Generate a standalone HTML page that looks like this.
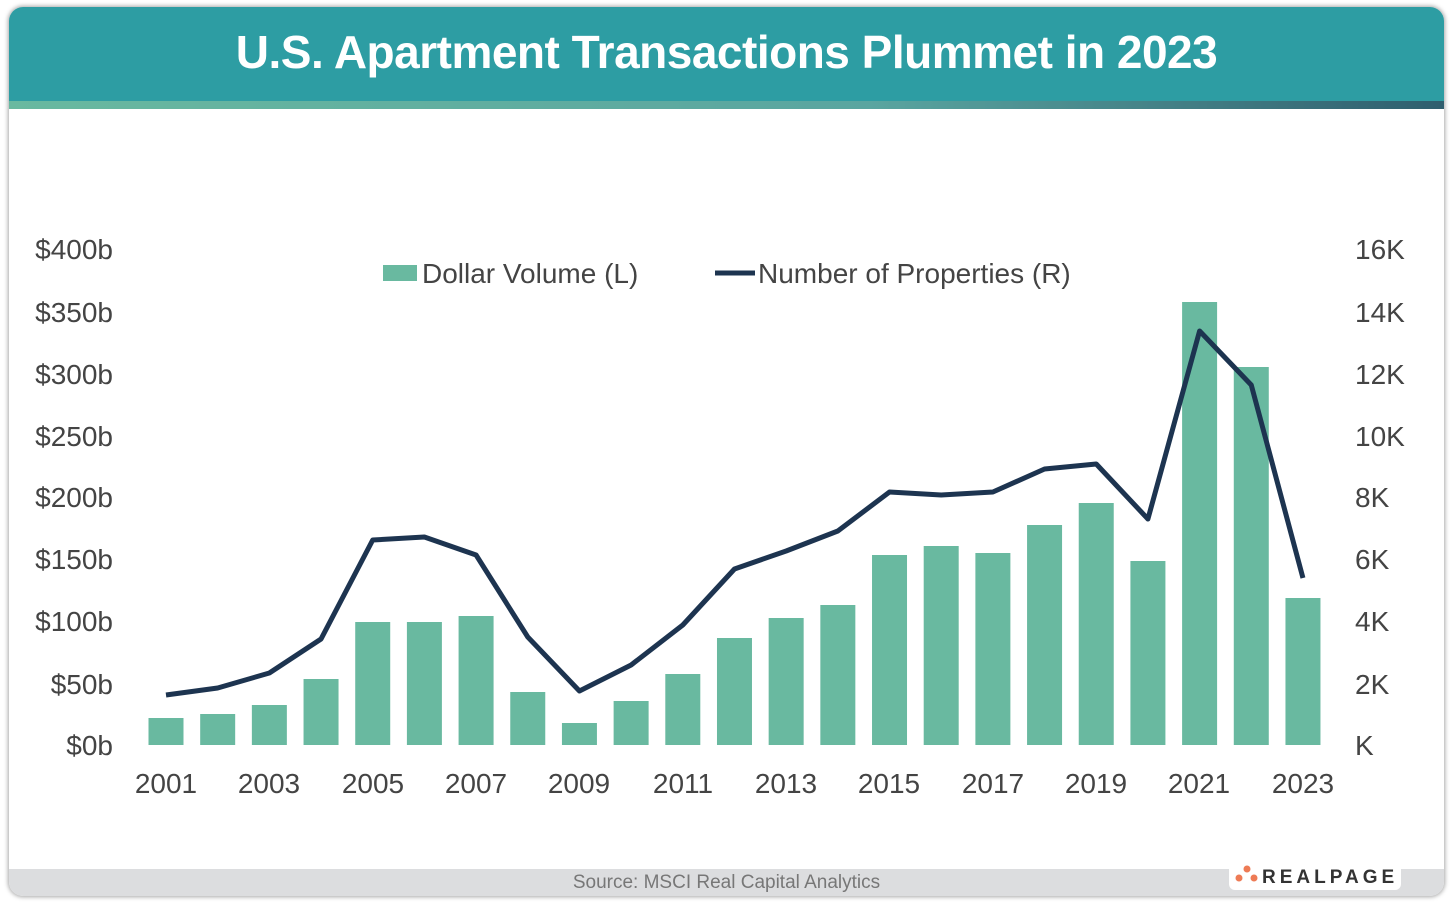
<!DOCTYPE html>
<html><head><style>
body{margin:0;width:1455px;height:903px;background:#fff;font-family:"Liberation Sans",sans-serif;overflow:hidden}
.card{position:absolute;left:9px;top:7px;width:1435px;height:889px;border-radius:14px;background:#fff;box-shadow:0 0 4px 1px rgba(0,0,0,.35);overflow:hidden}
.hdr{position:absolute;left:0;top:0;width:1435px;height:94px;background:#2D9DA3;color:#fff;font-weight:bold;font-size:46px;text-align:center;line-height:90px;letter-spacing:-0.5px}
.strip{position:absolute;left:0;top:94px;width:1435px;height:8px;background:linear-gradient(90deg,#69b9a0,#5aa5a0 60%,#2f5e6e)}
.foot{position:absolute;left:0;top:862px;width:1435px;height:27px;background:#dcdddf;color:#777;font-size:19px;text-align:center;line-height:27px}
.logo{position:absolute;left:1220px;top:853px;width:172px;height:30px;background:#fff;border-radius:6px}
</style></head><body>
<div class="card">
<div class="hdr">U.S. Apartment Transactions Plummet in 2023</div>
<div class="strip"></div>
<div class="foot">Source: MSCI Real Capital Analytics</div>
<div class="logo"><svg width="172" height="30"><circle cx="18" cy="9" r="3.5" fill="#ee7b55"/><circle cx="10" cy="18" r="3.5" fill="#ee7b55"/><circle cx="25" cy="18" r="3.5" fill="#ee7b55"/><text x="33" y="23" font-family="Liberation Sans" font-weight="bold" font-size="19" letter-spacing="4" fill="#333">REALPAGE</text></svg></div>
</div>
<svg width="1455" height="903" style="position:absolute;left:0;top:0" font-family="Liberation Sans, sans-serif">
<g font-size="28" fill="#444">
<g text-anchor="end">
<text x="113" y="259">$400b</text><text x="113" y="322">$350b</text><text x="113" y="384">$300b</text><text x="113" y="446">$250b</text><text x="113" y="507">$200b</text><text x="113" y="569">$150b</text><text x="113" y="631">$100b</text><text x="113" y="694">$50b</text><text x="113" y="755">$0b</text>
</g>
<g>
<text x="1355" y="259">16K</text><text x="1355" y="322">14K</text><text x="1355" y="384">12K</text><text x="1355" y="446">10K</text><text x="1355" y="507">8K</text><text x="1355" y="569">6K</text><text x="1355" y="631">4K</text><text x="1355" y="694">2K</text><text x="1355" y="755">K</text>
</g>
<g text-anchor="middle">
<text x="166" y="793">2001</text><text x="269" y="793">2003</text><text x="373" y="793">2005</text><text x="476" y="793">2007</text><text x="579" y="793">2009</text><text x="683" y="793">2011</text><text x="786" y="793">2013</text><text x="889" y="793">2015</text><text x="993" y="793">2017</text><text x="1096" y="793">2019</text><text x="1199" y="793">2021</text><text x="1303" y="793">2023</text>
</g>
<rect x="383" y="265" width="34" height="16" fill="#69b9a0"/>
<text x="422" y="283">Dollar Volume (L)</text>
<line x1="715" y1="273" x2="755" y2="273" stroke="#1d3450" stroke-width="5"/>
<text x="758" y="283">Number of Properties (R)</text>
</g>
<g fill="#69b9a0" id="bars"></g>
<polyline id="ln" fill="none" stroke="#1d3450" stroke-width="5" stroke-linejoin="round"/>
</svg>
<script>
var tops=[718,714,705,679,622,622,616,692,723,701,674,638,618,605,555,546,553,525,503,561,302,367,598];
var ly=[695,688,673,639,540,537,555,637,691,665,625,569,551,531,492,495,492,469,464,519,331,385,578];
var g=document.getElementById('bars'),s='',p=[];
for(var i=0;i<23;i++){var x=166+i*51.68;s+='<rect x="'+(x-17.5)+'" y="'+tops[i]+'" width="35" height="'+(745-tops[i])+'"/>';p.push(x+','+ly[i]);}
g.innerHTML=s;document.getElementById('ln').setAttribute('points',p.join(' '));
</script>
</body></html>
